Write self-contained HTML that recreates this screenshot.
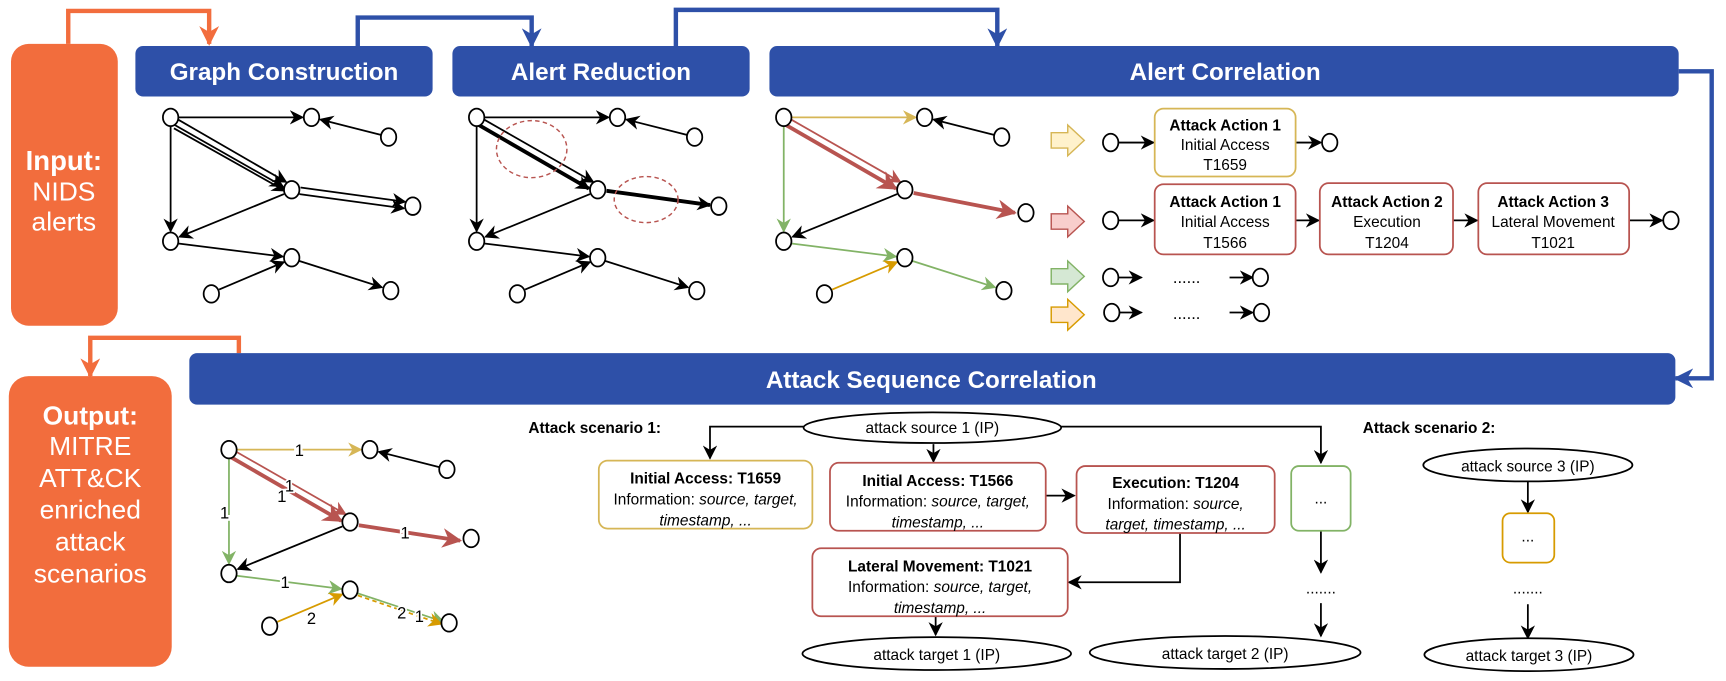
<!DOCTYPE html>
<html><head><meta charset="utf-8"><style>
html,body{margin:0;padding:0;background:#fff;}
svg{display:block;}
text{font-family:"Liberation Sans",Arial,sans-serif;}
</style></head><body>
<svg width="1726" height="681" viewBox="0 0 1568 621" preserveAspectRatio="none" xmlns="http://www.w3.org/2000/svg">
<defs>
<marker id="mk" viewBox="0 0 10 10" refX="9" refY="5" markerWidth="13" markerHeight="13" markerUnits="userSpaceOnUse" orient="auto"><path d="M0,0 L10,5 L0,10 L3,5 z" fill="#000"/></marker>
<marker id="my" viewBox="0 0 10 10" refX="9" refY="5" markerWidth="13" markerHeight="13" markerUnits="userSpaceOnUse" orient="auto"><path d="M0,0 L10,5 L0,10 L3,5 z" fill="#D6B656"/></marker>
<marker id="mr" viewBox="0 0 10 10" refX="9" refY="5" markerWidth="13" markerHeight="13" markerUnits="userSpaceOnUse" orient="auto"><path d="M0,0 L10,5 L0,10 L3,5 z" fill="#B85450"/></marker>
<marker id="mrb" viewBox="0 0 10 10" refX="9" refY="5" markerWidth="18" markerHeight="18" markerUnits="userSpaceOnUse" orient="auto"><path d="M0,0 L10,5 L0,10 L3,5 z" fill="#B85450"/></marker>
<marker id="mg" viewBox="0 0 10 10" refX="9" refY="5" markerWidth="13" markerHeight="13" markerUnits="userSpaceOnUse" orient="auto"><path d="M0,0 L10,5 L0,10 L3,5 z" fill="#82B366"/></marker>
<marker id="mo" viewBox="0 0 10 10" refX="9" refY="5" markerWidth="13" markerHeight="13" markerUnits="userSpaceOnUse" orient="auto"><path d="M0,0 L10,5 L0,10 L3,5 z" fill="#D79B00"/></marker>
<marker id="mbl" viewBox="0 0 10 10" refX="9" refY="5" markerWidth="18" markerHeight="18" markerUnits="userSpaceOnUse" orient="auto"><path d="M0,0 L10,5 L0,10 L3,5 z" fill="#2E50A8"/></marker>
<marker id="mor" viewBox="0 0 10 10" refX="9" refY="5" markerWidth="18" markerHeight="18" markerUnits="userSpaceOnUse" orient="auto"><path d="M0,0 L10,5 L0,10 L3,5 z" fill="#F26D3D"/></marker>
</defs>

<!-- top connectors -->
<polyline points="62,40 62,10 190,10 190,40" fill="none" stroke="#F26D3D" stroke-width="4" marker-end="url(#mor)"/>
<polyline points="325,42 325,16 483,16 483,42" fill="none" stroke="#2E50A8" stroke-width="4" marker-end="url(#mbl)"/>
<polyline points="614,42 614,9 906,9 906,42" fill="none" stroke="#2E50A8" stroke-width="4" marker-end="url(#mbl)"/>
<polyline points="1525,65 1555,65 1555,345 1522,345" fill="none" stroke="#2E50A8" stroke-width="4" marker-end="url(#mbl)"/>
<polyline points="217,322 217,308 82,308 82,343" fill="none" stroke="#F26D3D" stroke-width="4" marker-end="url(#mor)"/>

<!-- orange boxes -->
<rect x="10" y="40" width="97" height="257" rx="16" fill="#F26D3D"/>
<text x="58" y="155" font-size="25" font-weight="bold" fill="#fff" text-anchor="middle">Input:</text>
<text x="58" y="183" font-size="24" fill="#fff" text-anchor="middle">NIDS</text>
<text x="58" y="210" font-size="24" fill="#fff" text-anchor="middle">alerts</text>
<rect x="8" y="343" width="148" height="265" rx="18" fill="#F26D3D"/>
<g font-size="24" fill="#fff" text-anchor="middle">
<text x="82" y="387" font-weight="bold">Output:</text>
<text x="82" y="415">MITRE</text>
<text x="82" y="444">ATT&amp;CK</text>
<text x="82" y="473">enriched</text>
<text x="82" y="502">attack</text>
<text x="82" y="531">scenarios</text>
</g>

<!-- blue headers -->
<rect x="123" y="42" width="270" height="46" rx="7" fill="#2E50A8"/>
<text x="258" y="73" font-size="22" font-weight="bold" fill="#fff" text-anchor="middle">Graph Construction</text>
<rect x="411" y="42" width="270" height="46" rx="7" fill="#2E50A8"/>
<text x="546" y="73" font-size="22" font-weight="bold" fill="#fff" text-anchor="middle">Alert Reduction</text>
<rect x="699" y="42" width="826" height="46" rx="7" fill="#2E50A8"/>
<text x="1113" y="73" font-size="22" font-weight="bold" fill="#fff" text-anchor="middle">Alert Correlation</text>
<rect x="172" y="322" width="1350" height="47" rx="7" fill="#2E50A8"/>
<text x="846" y="354" font-size="22" font-weight="bold" fill="#fff" text-anchor="middle">Attack Sequence Correlation</text>

<!-- Graph construction -->
<g stroke="#000" stroke-width="1.6" fill="none">
<line x1="162" y1="107" x2="275" y2="107" marker-end="url(#mk)"/>
<line x1="346" y1="123" x2="291" y2="109" marker-end="url(#mk)"/>
<line x1="160" y1="108" x2="260" y2="166" marker-end="url(#mk)"/>
<line x1="157" y1="113" x2="257" y2="170" marker-end="url(#mk)"/>
<line x1="158" y1="117" x2="259" y2="174" marker-end="url(#mk)"/>
<line x1="273" y1="171" x2="368" y2="184" marker-end="url(#mk)"/>
<line x1="272" y1="177" x2="367" y2="190" marker-end="url(#mk)"/>
<line x1="155" y1="115" x2="155" y2="211" marker-end="url(#mk)"/>
<line x1="258" y1="177" x2="163" y2="216" marker-end="url(#mk)"/>
<line x1="162" y1="222" x2="257" y2="234" marker-end="url(#mk)"/>
<line x1="199" y1="264" x2="258" y2="239" marker-end="url(#mk)"/>
<line x1="272" y1="238" x2="347" y2="262" marker-end="url(#mk)"/>
</g>
<!-- Alert reduction -->
<g transform="translate(278,0)" stroke="#000" fill="none">
<line x1="162" y1="107" x2="275" y2="107" stroke-width="1.6" marker-end="url(#mk)"/>
<line x1="346" y1="123" x2="291" y2="109" stroke-width="1.6" marker-end="url(#mk)"/>
<line x1="160" y1="108" x2="261" y2="166" stroke-width="1.6" marker-end="url(#mk)"/>
<line x1="157" y1="114" x2="257" y2="172" stroke-width="3.5" marker-end="url(#mk)"/>
<line x1="273" y1="174" x2="367" y2="187" stroke-width="3.5" marker-end="url(#mk)"/>
<line x1="155" y1="115" x2="155" y2="211" stroke-width="1.6" marker-end="url(#mk)"/>
<line x1="258" y1="177" x2="163" y2="216" stroke-width="1.6" marker-end="url(#mk)"/>
<line x1="162" y1="222" x2="257" y2="234" stroke-width="1.6" marker-end="url(#mk)"/>
<line x1="199" y1="264" x2="258" y2="239" stroke-width="1.6" marker-end="url(#mk)"/>
<line x1="272" y1="238" x2="347" y2="262" stroke-width="1.6" marker-end="url(#mk)"/>
<ellipse cx="205" cy="136" rx="32" ry="26" stroke="#B85450" stroke-width="1.3" stroke-dasharray="4,3"/>
<ellipse cx="309" cy="182" rx="29" ry="21" stroke="#B85450" stroke-width="1.3" stroke-dasharray="4,3"/>
</g>
<!-- Alert correlation -->
<g transform="translate(557,0)" fill="none" stroke-width="1.6">
<line x1="162" y1="107" x2="275" y2="107" stroke="#D6B656" marker-end="url(#my)"/>
<line x1="346" y1="123" x2="291" y2="109" stroke="#000" marker-end="url(#mk)"/>
<line x1="160" y1="108" x2="261" y2="166" stroke="#B85450" marker-end="url(#mr)"/>
<line x1="157" y1="114" x2="257" y2="172" stroke="#B85450" stroke-width="3.5" marker-end="url(#mrb)"/>
<line x1="273" y1="176" x2="365" y2="194" stroke="#B85450" stroke-width="3.5" marker-end="url(#mrb)"/>
<line x1="155" y1="115" x2="155" y2="211" stroke="#82B366" marker-end="url(#mg)"/>
<line x1="258" y1="177" x2="163" y2="216" stroke="#000" marker-end="url(#mk)"/>
<line x1="162" y1="222" x2="257" y2="234" stroke="#82B366" marker-end="url(#mg)"/>
<line x1="199" y1="264" x2="258" y2="239" stroke="#D79B00" marker-end="url(#mo)"/>
<line x1="272" y1="238" x2="347" y2="262" stroke="#82B366" marker-end="url(#mg)"/>
</g>
<!-- bottom graph -->
<g transform="translate(53,303)" fill="none" stroke-width="1.6">
<line x1="162" y1="107" x2="275" y2="107" stroke="#D6B656" marker-end="url(#my)"/>
<line x1="346" y1="123" x2="291" y2="109" stroke="#000" marker-end="url(#mk)"/>
<line x1="160" y1="108" x2="261" y2="166" stroke="#B85450" marker-end="url(#mr)"/>
<line x1="157" y1="114" x2="257" y2="172" stroke="#B85450" stroke-width="3.5" marker-end="url(#mrb)"/>
<line x1="273" y1="176" x2="365" y2="190" stroke="#B85450" stroke-width="3.5" marker-end="url(#mrb)"/>
<line x1="155" y1="115" x2="155" y2="211" stroke="#82B366" marker-end="url(#mg)"/>
<line x1="258" y1="177" x2="163" y2="216" stroke="#000" marker-end="url(#mk)"/>
<line x1="162" y1="222" x2="257" y2="234" stroke="#82B366" marker-end="url(#mg)"/>
<line x1="199" y1="264" x2="258" y2="239" stroke="#D79B00" marker-end="url(#mo)"/>
<line x1="272" y1="238" x2="350" y2="264" stroke="#82B366" marker-end="url(#mg)"/>
<line x1="272" y1="240" x2="348" y2="266" stroke="#D79B00" stroke-dasharray="4,3" marker-end="url(#mo)"/>
</g>
<g font-size="15" fill="#000" text-anchor="middle">
<text x="272" y="416" style="paint-order:stroke" stroke="#fff" stroke-width="4">1</text>
<text x="263" y="448" style="paint-order:stroke" stroke="#fff" stroke-width="3">1</text>
<text x="256" y="458" style="paint-order:stroke" stroke="#fff" stroke-width="3">1</text>
<text x="204" y="473" style="paint-order:stroke" stroke="#fff" stroke-width="4">1</text>
<text x="368" y="491" style="paint-order:stroke" stroke="#fff" stroke-width="4">1</text>
<text x="259" y="536" style="paint-order:stroke" stroke="#fff" stroke-width="4">1</text>
<text x="283" y="569" style="paint-order:stroke" stroke="#fff" stroke-width="4">2</text>
<text x="365" y="564" style="paint-order:stroke" stroke="#fff" stroke-width="3">2</text>
<text x="381" y="567" style="paint-order:stroke" stroke="#fff" stroke-width="3">1</text>
</g>
<!-- nodes -->
<g fill="#fff" stroke="#000" stroke-width="1.6">
<g id="nodes">
<ellipse cx="155" cy="107" rx="7" ry="8"/><ellipse cx="283" cy="107" rx="7" ry="8"/><ellipse cx="353" cy="125" rx="7" ry="8"/>
<ellipse cx="265" cy="173" rx="7" ry="8"/><ellipse cx="375" cy="188" rx="7" ry="8"/><ellipse cx="155" cy="220" rx="7" ry="8"/>
<ellipse cx="265" cy="235" rx="7" ry="8"/><ellipse cx="192" cy="268" rx="7" ry="8"/><ellipse cx="355" cy="265" rx="7" ry="8"/>
</g>
<use href="#nodes" transform="translate(278,0)"/>
<g transform="translate(557,0)">
<ellipse cx="155" cy="107" rx="7" ry="8"/><ellipse cx="283" cy="107" rx="7" ry="8"/><ellipse cx="353" cy="125" rx="7" ry="8"/>
<ellipse cx="265" cy="173" rx="7" ry="8"/><ellipse cx="375" cy="194" rx="7" ry="8"/><ellipse cx="155" cy="220" rx="7" ry="8"/>
<ellipse cx="265" cy="235" rx="7" ry="8"/><ellipse cx="192" cy="268" rx="7" ry="8"/><ellipse cx="355" cy="265" rx="7" ry="8"/>
</g>
<use href="#nodes" transform="translate(53,303)"/>
</g>

<!-- block arrows -->
<g stroke-width="1.3">
<path d="M955,121 h15 v-7 l15,14 l-15,14 v-7 h-15 z" fill="#FFF2CC" stroke="#D6B656"/>
<path d="M955,195 h15 v-7 l15,14 l-15,14 v-7 h-15 z" fill="#F8CECC" stroke="#B85450"/>
<path d="M955,245 h15 v-7 l15,14 l-15,14 v-7 h-15 z" fill="#D5E8D4" stroke="#82B366"/>
<path d="M955,280 h15 v-7 l15,14 l-15,14 v-7 h-15 z" fill="#FFE6CC" stroke="#D79B00"/>
</g>
<g stroke="#000" stroke-width="1.6" fill="none">
<line x1="1016" y1="130" x2="1048" y2="130" marker-end="url(#mk)"/>
<line x1="1177" y1="130" x2="1200" y2="130" marker-end="url(#mk)"/>
<line x1="1016" y1="201" x2="1048" y2="201" marker-end="url(#mk)"/>
<line x1="1177" y1="201" x2="1198" y2="201" marker-end="url(#mk)"/>
<line x1="1320" y1="201" x2="1342" y2="201" marker-end="url(#mk)"/>
<line x1="1480" y1="201" x2="1510" y2="201" marker-end="url(#mk)"/>
<line x1="1016" y1="253" x2="1037" y2="253" marker-end="url(#mk)"/>
<line x1="1117" y1="253" x2="1138" y2="253" marker-end="url(#mk)"/>
<line x1="1016" y1="285" x2="1037" y2="285" marker-end="url(#mk)"/>
<line x1="1117" y1="285" x2="1138" y2="285" marker-end="url(#mk)"/>
</g>
<g fill="#fff" stroke="#000" stroke-width="1.6">
<ellipse cx="1009" cy="130" rx="7" ry="8"/><ellipse cx="1208" cy="130" rx="7" ry="8"/>
<ellipse cx="1009" cy="201" rx="7" ry="8"/><ellipse cx="1518" cy="201" rx="7" ry="8"/>
<ellipse cx="1009" cy="253" rx="7" ry="8"/><ellipse cx="1145" cy="253" rx="7" ry="8"/>
<ellipse cx="1010" cy="285" rx="7" ry="8"/><ellipse cx="1146" cy="285" rx="7" ry="8"/>
</g>
<text x="1078" y="258" font-size="15" text-anchor="middle">......</text>
<text x="1078" y="291" font-size="15" text-anchor="middle">......</text>
<g fill="#fff" stroke-width="1.6">
<rect x="1049" y="99" width="128" height="62" rx="8" stroke="#D6B656"/>
<rect x="1049" y="168" width="128" height="64" rx="8" stroke="#B85450"/>
<rect x="1199" y="167" width="121" height="65" rx="8" stroke="#B85450"/>
<rect x="1343" y="167" width="137" height="65" rx="8" stroke="#B85450"/>
</g>
<g font-size="14" text-anchor="middle">
<text x="1113" y="119" font-weight="bold">Attack Action 1</text>
<text x="1113" y="137">Initial Access</text>
<text x="1113" y="155">T1659</text>
<text x="1113" y="189" font-weight="bold">Attack Action 1</text>
<text x="1113" y="207">Initial Access</text>
<text x="1113" y="226">T1566</text>
<text x="1260" y="189" font-weight="bold">Attack Action 2</text>
<text x="1260" y="207">Execution</text>
<text x="1260" y="226">T1204</text>
<text x="1411" y="189" font-weight="bold">Attack Action 3</text>
<text x="1411" y="207">Lateral Movement</text>
<text x="1411" y="226">T1021</text>
</g>

<!-- Scenario 1 -->
<text x="480" y="395" font-size="14" font-weight="bold">Attack scenario 1:</text>
<g stroke="#000" stroke-width="1.6" fill="none">
<polyline points="730,389 645,389 645,418" marker-end="url(#mk)"/>
<polyline points="963,389 1200,389 1200,422" marker-end="url(#mk)"/>
<line x1="848" y1="405" x2="848" y2="421" marker-end="url(#mk)"/>
<line x1="950" y1="452" x2="976" y2="452" marker-end="url(#mk)"/>
<polyline points="1072,486 1072,531 971,531" marker-end="url(#mk)"/>
<line x1="850" y1="562" x2="850" y2="579" marker-end="url(#mk)"/>
<line x1="1200" y1="484" x2="1200" y2="522" marker-end="url(#mk)"/>
<line x1="1200" y1="550" x2="1200" y2="580" marker-end="url(#mk)"/>
<line x1="1388" y1="439" x2="1388" y2="467" marker-end="url(#mk)"/>
<line x1="1388" y1="551" x2="1388" y2="582" marker-end="url(#mk)"/>
</g>
<g fill="#fff" stroke="#000" stroke-width="1.6">
<ellipse cx="847" cy="390" rx="117" ry="14"/>
<ellipse cx="851" cy="596" rx="122" ry="15"/>
<ellipse cx="1113" cy="595" rx="123" ry="15"/>
<ellipse cx="1388" cy="424" rx="95" ry="15"/>
<ellipse cx="1389" cy="597" rx="95" ry="15"/>
</g>
<g fill="#fff" stroke-width="1.6">
<rect x="544" y="420" width="194" height="62" rx="8" stroke="#D6B656"/>
<rect x="754" y="422" width="196" height="62" rx="8" stroke="#B85450"/>
<rect x="978" y="425" width="180" height="61" rx="8" stroke="#B85450"/>
<rect x="1173" y="425" width="54" height="59" rx="7" stroke="#82B366"/>
<rect x="738" y="500" width="232" height="62" rx="8" stroke="#B85450"/>
<rect x="1365" y="468" width="47" height="45" rx="7" stroke="#D79B00"/>
</g>
<g font-size="14" text-anchor="middle">
<text x="847" y="395">attack source 1 (IP)</text>
<text x="851" y="602">attack target 1 (IP)</text>
<text x="1113" y="601">attack target 2 (IP)</text>
<text x="1388" y="430">attack source 3 (IP)</text>
<text x="1389" y="603">attack target 3 (IP)</text>
<text x="641" y="441" font-weight="bold">Initial Access: T1659</text>
<text x="641" y="460">Information: <tspan font-style="italic">source, target,</tspan></text>
<text x="641" y="479" font-style="italic">timestamp, ...</text>
<text x="852" y="443" font-weight="bold">Initial Access: T1566</text>
<text x="852" y="462">Information: <tspan font-style="italic">source, target,</tspan></text>
<text x="852" y="481" font-style="italic">timestamp, ...</text>
<text x="1068" y="445" font-weight="bold">Execution: T1204</text>
<text x="1068" y="464">Information: <tspan font-style="italic">source,</tspan></text>
<text x="1068" y="483" font-style="italic">target, timestamp, ...</text>
<text x="854" y="521" font-weight="bold">Lateral Movement: T1021</text>
<text x="854" y="540">Information: <tspan font-style="italic">source, target,</tspan></text>
<text x="854" y="559" font-style="italic">timestamp, ...</text>
<text x="1200" y="459">...</text>
<text x="1388" y="494">...</text>
<text x="1200" y="541">.......</text>
<text x="1388" y="541">.......</text>
</g>
<text x="1238" y="395" font-size="14" font-weight="bold">Attack scenario 2:</text>
</svg>
</body></html>
